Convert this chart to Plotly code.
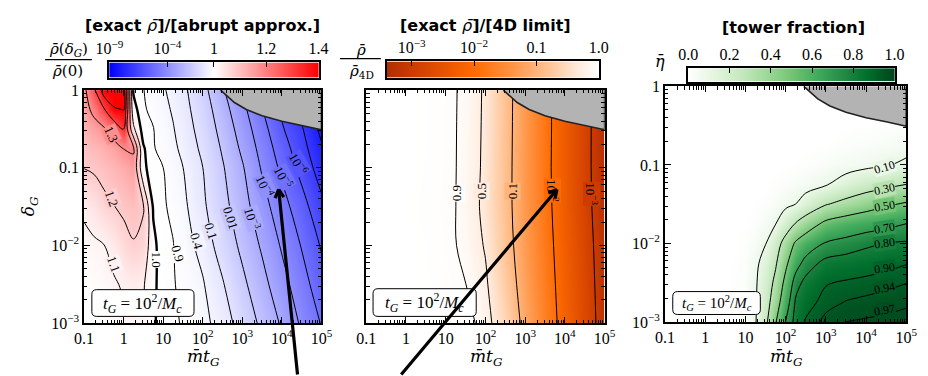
import numpy as np
import plotly.graph_objects as go

W, H = 928, 376
SERIF = "Liberation Serif"
MATH = "DejaVu Serif"
SANS = "DejaVu Sans"

# ---------------- data ----------------
# columns: log10(m t_G), rows: log10(delta_G)
p1_lx = [-1, -0.75, -0.5, -0.25, 0, 0.25, 0.5, 0.75, 1, 1.25, 1.5, 2, 2.5, 3, 3.5, 4, 4.5, 5]
p1_ly = [0, -0.25, -0.5, -0.75, -1, -1.5, -2, -2.5, -3]
p1_ratio = [
    [1.28, 1.38, 1.55, 1.62, 1.55, 0.99, 0.92, 0.665, 0.46, 0.275, 0.16, 0.021, 1.3e-3, 1e-4, 5.6e-6, 3e-7, 1.4e-8, 1e-9],
    [1.27, 1.32, 1.39, 1.48, 1.505, 1.03, 0.95, 0.805, 0.545, 0.353, 0.195, 0.034, 2.6e-3, 1.9e-4, 1.1e-5, 6.7e-7, 4.5e-8, 1.6e-9],
    [1.245, 1.27, 1.29, 1.34, 1.405, 1.12, 0.96, 0.917, 0.65, 0.43, 0.24, 0.05, 4.6e-3, 3.6e-4, 2.4e-5, 1.3e-6, 1.26e-7, 5.2e-9],
    [1.22, 1.235, 1.25, 1.27, 1.302, 1.31, 1.01, 0.935, 0.764, 0.51, 0.305, 0.071, 7.8e-3, 6.5e-4, 4.5e-5, 3e-6, 2.4e-7, 1.4e-8],
    [1.202, 1.21, 1.225, 1.24, 1.255, 1.275, 1.02, 0.957, 0.902, 0.6, 0.405, 0.101, 0.0123, 1.26e-3, 7.8e-5, 6e-6, 4.7e-7, 3.2e-8],
    [1.12, 1.15, 1.18, 1.198, 1.215, 1.225, 1.205, 0.99, 0.94, 0.83, 0.55, 0.141, 0.0215, 2.5e-3, 2.5e-4, 2.5e-5, 2.5e-6, 1.8e-7],
    [1.07, 1.085, 1.098, 1.13, 1.17, 1.195, 1.18, 1.02, 0.96, 0.914, 0.70, 0.263, 0.045, 6e-3, 7.3e-4, 7.7e-5, 8.7e-6, 8e-7],
    [1.04, 1.05, 1.065, 1.09, 1.11, 1.12, 1.11, 1.015, 0.97, 0.927, 0.817, 0.449, 0.117, 0.0168, 2.1e-3, 2.3e-4, 2.6e-5, 2.6e-6],
    [1.025, 1.03, 1.04, 1.06, 1.08, 1.09, 1.08, 1.01, 0.97, 0.933, 0.883, 0.55, 0.244, 0.044, 6.1e-3, 7.4e-4, 6.9e-5, 8.7e-6],
]
p1_levels_log = [1e-8, 1e-7, 1e-6, 1e-5, 1e-4, 1e-3, 1e-2, 0.1, 0.4, 0.9]
p1_levels_lin = [1.1, 1.2, 1.3, 1.4, 1.5]

p2_lx = [-1, 0, 0.5, 1, 1.25, 1.5, 1.75, 2, 2.5, 3, 3.5, 4, 4.5, 5]
p2_ly = [0, -0.5, -1, -1.5, -2, -2.5, -3]
p2_ratio = [
    [1.0, 0.995, 0.983, 0.947, 0.917, 0.807, 0.615, 0.44, 0.153, 0.0487, 0.0147, 4.5e-3, 1.42e-3, 4.4e-4],
    [1.0, 0.993, 0.982, 0.943, 0.913, 0.785, 0.604, 0.431, 0.15, 0.048, 0.0146, 4.6e-3, 1.45e-3, 4.6e-4],
    [1.0, 0.993, 0.98, 0.94, 0.91, 0.765, 0.594, 0.42, 0.147, 0.047, 0.0143, 4.5e-3, 1.44e-3, 4.6e-4],
    [1.0, 0.992, 0.976, 0.934, 0.904, 0.735, 0.575, 0.404, 0.146, 0.048, 0.0149, 4.7e-3, 1.5e-3, 4.8e-4],
    [1.0, 0.993, 0.981, 0.942, 0.912, 0.786, 0.618, 0.469, 0.16, 0.052, 0.0163, 5.2e-3, 1.65e-3, 5.3e-4],
    [1.0, 0.995, 0.989, 0.962, 0.935, 0.906, 0.733, 0.566, 0.198, 0.0596, 0.0184, 5.7e-3, 1.8e-3, 5.6e-4],
    [1.0, 0.996, 0.992, 0.974, 0.959, 0.929, 0.899, 0.675, 0.265, 0.0725, 0.021, 6.25e-3, 1.93e-3, 6e-4],
]
p2_levels = [1e-3, 1e-2, 0.1, 0.5, 0.9]

p3_lx = [-1, 0, 0.5, 1, 1.25, 1.5, 1.75, 2, 2.25, 2.5, 3, 3.5, 4, 4.5, 5]
p3_ly = [0, -0.5, -0.75, -1, -1.25, -1.5, -1.75, -2, -2.25, -2.5, -2.75, -3]
p3_eta = [
    [0, 0, 0, 0, 0, 0, 0, 0, 0, 0, 0, 0, 0, 0, 0],
    [0, 0, 0, 0, 0, 0, 0, 0, 0, 0, 0, 0.002, 0.005, 0.01, 0.015],
    [0, 0, 0, 0, 0, 0, 0, 0, 0, 0.002, 0.005, 0.015, 0.025, 0.035, 0.05],
    [0, 0, 0, 0, 0, 0, 0, 0.003, 0.006, 0.01, 0.03, 0.05, 0.07, 0.09, 0.128],
    [0, 0, 0, 0, 0, 0.003, 0.01, 0.02, 0.035, 0.05, 0.09, 0.16, 0.22, 0.26, 0.302],
    [0, 0, 0, 0, 0.005, 0.015, 0.035, 0.07, 0.101, 0.166, 0.29, 0.356, 0.416, 0.476, 0.521],
    [0, 0, 0, 0.005, 0.015, 0.045, 0.097, 0.204, 0.311, 0.40, 0.543, 0.598, 0.637, 0.666, 0.701],
    [0, 0, 0, 0.01, 0.035, 0.095, 0.218, 0.369, 0.525, 0.605, 0.713, 0.746, 0.78, 0.804, 0.813],
    [0, 0, 0, 0.015, 0.07, 0.157, 0.28, 0.462, 0.638, 0.75, 0.83, 0.845, 0.862, 0.879, 0.897],
    [0, 0, 0.001, 0.02, 0.0825, 0.195, 0.341, 0.551, 0.764, 0.827, 0.895, 0.909, 0.919, 0.929, 0.939],
    [0, 0, 0.001, 0.025, 0.087, 0.221, 0.40, 0.63, 0.814, 0.874, 0.923, 0.943, 0.951, 0.958, 0.966],
    [0, 0, 0.002, 0.03, 0.09, 0.257, 0.49, 0.702, 0.838, 0.907, 0.955, 0.971, 0.975, 0.978, 0.98],
]
p3_levels = [0.1, 0.3, 0.5, 0.7, 0.8, 0.9, 0.94, 0.97]

# boundary of the excluded (grey) region
edge_lx = [2.45, 2.6, 2.8, 3.1, 3.5, 4.0, 4.5, 5.0]
edge_ly = [0, -0.07, -0.16, -0.25, -0.33, -0.40, -0.45, -0.51]

x_ticks = [-1, 0, 1, 2, 3, 4, 5]
x_ticktext = ["0.1", "1", "10", "10<sup>2</sup>", "10<sup>3</sup>", "10<sup>4</sup>", "10<sup>5</sup>"]
y_ticks = [-3, -2, -1, 0]
y_ticktext = ["10<sup>\u22123</sup>", "10<sup>\u22122</sup>", "0.1", "1"]

cb1_vals = [0, 5 / 18, 0.5, 0.75, 1.0]
cb1_text = ["10<sup>\u22129</sup>", "10<sup>\u22124</sup>", "1", "1.2", "1.4"]
cb2_min = -3.4
cb2_vals = [(-3 - cb2_min) / -cb2_min, (-2 - cb2_min) / -cb2_min, (-1 - cb2_min) / -cb2_min, 1.0]
cb2_text = ["10<sup>\u22123</sup>", "10<sup>\u22122</sup>", "0.1", "1.0"]
cb3_vals = [0, 0.2, 0.4, 0.6, 0.8, 1.0]
cb3_text = ["0.0", "0.2", "0.4", "0.6", "0.8", "1.0"]

# ---------------- colour scales ----------------
CS1 = [[0, "#0000ff"], [0.5, "#ffffff"], [1, "#ff0000"]]
CS2 = [[0, "#b02e00"], [0.118, "#cc3b00"], [0.41, "#ff6a00"], [0.6, "#ff9648"],
       [0.75, "#ffc08e"], [0.9, "#ffeadb"], [1, "#ffffff"]]
CS3 = [[0, "#ffffff"], [0.125, "#e5f5e0"], [0.25, "#c7e9c0"], [0.375, "#a1d99b"], [0.5, "#74c476"],
       [0.625, "#41ab5d"], [0.75, "#238b45"], [0.875, "#006d2c"], [1, "#00441b"]]


def hex2rgb(h):
    h = h.lstrip("#")
    return tuple(int(h[i:i + 2], 16) for i in (0, 2, 4))


def cs_color(cs, t):
    t = min(max(t, 0.0), 1.0)
    for (t0, c0), (t1_, c1) in zip(cs[:-1], cs[1:]):
        if t <= t1_:
            f = (t - t0) / (t1_ - t0) if t1_ > t0 else 0
            a, b = hex2rgb(c0), hex2rgb(c1)
            return "rgb(%d,%d,%d)" % tuple(round(a[i] + (b[i] - a[i]) * f) for i in range(3))
    return "rgb(%d,%d,%d)" % hex2rgb(cs[-1][1])


def t1(v):
    v = np.asarray(v, dtype=float)
    lo = 0.5 * (1 + np.log10(np.clip(v, 1e-12, None)) / 9)
    hi = 0.5 + 0.5 * ((np.clip(v, 1, None) - 1) / 0.45) ** 2
    return np.clip(np.where(v <= 1, lo, hi), 0, 1)


def t2(v):
    v = np.asarray(v, dtype=float)
    return np.clip((np.log10(v) - cb2_min) / -cb2_min, 0, 1)


def px2x(px):
    return px / W


def px2y(py):
    return 1 - py / H


fig = go.Figure()


def add_heat(lx, ly, t, cs, n):
    fig.add_trace(go.Heatmap(x=lx, y=ly, z=t, colorscale=cs, zmin=0, zmax=1, zsmooth="best",
                             showscale=False, hoverinfo="skip", xaxis="x" + n, yaxis="y" + n))


def add_level(lx, ly, z, level, n, width=1.0):
    fig.add_trace(go.Contour(x=lx, y=ly, z=z, autocontour=False,
                             contours=dict(start=level, end=level, size=1, coloring="none", showlabels=False),
                             line=dict(color="black", width=width, smoothing=1.0),
                             showscale=False, hoverinfo="skip", xaxis="x" + n, yaxis="y" + n))


def add_grey(n):
    fig.add_trace(go.Scatter(x=edge_lx + [5.0], y=edge_ly + [0.0], fill="toself", fillcolor="#b3b3b3",
                             mode="lines", line=dict(color="#222222", width=1.6), hoverinfo="skip",
                             showlegend=False, xaxis="x" + n, yaxis="y" + n))


# panel 1
r1 = np.array(p1_ratio)
w1 = np.log10(r1)
add_heat(p1_lx, p1_ly, t1(r1), CS1, "")
for lv in p1_levels_log:
    add_level(p1_lx, p1_ly, w1, float(np.log10(lv)), "")
add_level(p1_lx, p1_ly, w1, 0.0, "", width=2.4)
for lv in p1_levels_lin:
    add_level(p1_lx, p1_ly, r1, lv, "")
add_grey("")

# panel 2
r2 = np.array(p2_ratio)
w2 = np.log10(r2)
add_heat(p2_lx, p2_ly, t2(r2), CS2, "2")
for lv in p2_levels:
    add_level(p2_lx, p2_ly, w2, float(np.log10(lv)), "2")
add_grey("2")

# panel 3
e3 = np.array(p3_eta)
add_heat(p3_lx, p3_ly, e3, CS3, "3")
for lv in p3_levels:
    add_level(p3_lx, p3_ly, e3, lv, "3")
add_grey("3")

# colour bars drawn as thin heatmaps in their own axes
cbx = np.linspace(0, 1, 300)
for n, cs in (("4", CS1), ("5", CS2), ("6", CS3)):
    fig.add_trace(go.Heatmap(x=cbx, y=[0], z=[cbx], colorscale=cs, zmin=0, zmax=1, showscale=False,
                             hoverinfo="skip", xaxis="x" + n, yaxis="y" + n))

# ---------------- axes ----------------
minor_x = [n + np.log10(k) for n in range(-1, 5) for k in range(2, 10)]
minor_y = [n + np.log10(k) for n in range(-3, 0) for k in range(2, 10)]
tickfont = dict(family=SERIF, size=16, color="black")


def main_axis(domain, rng, tv, tt, minor_vals, anchor, show_labels=True):
    return dict(domain=domain, range=rng, anchor=anchor, showgrid=False, zeroline=False,
                showline=True, linecolor="black", linewidth=1.6, mirror="allticks",
                ticks="inside", ticklen=6, tickwidth=1, tickcolor="black",
                tickmode="array", tickvals=tv, ticktext=tt, showticklabels=show_labels,
                tickfont=tickfont,
                minor=dict(tickmode="array", tickvals=minor_vals, ticks="inside", ticklen=3.5,
                           tickwidth=0.8, tickcolor="black", showgrid=False))


xd1 = [72 / W, 316 / W]
xd2 = [362 / W, 607 / W]
xd3 = [669 / W, 917 / W]
yd12 = [px2y(330), px2y(86)]
yd3 = [px2y(329), px2y(82)]

layout = dict(width=W, height=H, margin=dict(l=0, r=0, t=0, b=0), paper_bgcolor="white",
              plot_bgcolor="white", showlegend=False)
layout["xaxis"] = main_axis(xd1, [-1, 5], x_ticks, x_ticktext, minor_x, "y")
layout["yaxis"] = main_axis(yd12, [-3, 0], y_ticks, y_ticktext, minor_y, "x")
layout["xaxis2"] = main_axis(xd2, [-1, 5], x_ticks, x_ticktext, minor_x, "y2")
layout["yaxis2"] = main_axis(yd12, [-3, 0], y_ticks, y_ticktext, minor_y, "x2", show_labels=False)
layout["xaxis3"] = main_axis(xd3, [-1, 5], x_ticks, x_ticktext, minor_x, "y3")
layout["yaxis3"] = main_axis(yd3, [-3, 0], y_ticks, y_ticktext, minor_y, "x3")


def cb_axes(xdom, ydom, tv, tt, anchor_x, anchor_y):
    xa = dict(domain=xdom, range=[0, 1], anchor=anchor_y, side="top", showgrid=False, zeroline=False,
              showline=True, linecolor="black", linewidth=1.6, mirror=True, ticks="inside",
              ticklen=5, tickwidth=1, tickcolor="black", tickmode="array", tickvals=tv, ticktext=tt,
              tickfont=dict(family=SERIF, size=16, color="black"))
    ya = dict(domain=ydom, range=[-0.5, 0.5], anchor=anchor_x, showgrid=False, zeroline=False,
              showline=True, linecolor="black", linewidth=1.6, mirror=True, ticks="",
              showticklabels=False)
    return xa, ya


layout["xaxis4"], layout["yaxis4"] = cb_axes([98 / W, 313 / W], [px2y(73), px2y(57)], cb1_vals, cb1_text, "x4", "y4")
layout["xaxis5"], layout["yaxis5"] = cb_axes([383 / W, 601 / W], [px2y(73), px2y(56)], cb2_vals, cb2_text, "x5", "y5")
layout["xaxis6"], layout["yaxis6"] = cb_axes([693 / W, 905 / W], [px2y(77), px2y(63)], cb3_vals, cb3_text, "x6", "y6")
fig.update_layout(**layout)

# ---------------- annotations ----------------
ann = []
shapes = []
RHO = "\u03c1\u0304"


def ptext(text, px, py, size=16, family=SERIF, angle=0, xanchor="center"):
    ann.append(dict(text=text, x=px2x(px), y=px2y(py), xref="paper", yref="paper", showarrow=False,
                    font=dict(family=family, size=size, color="black"), textangle=angle,
                    xanchor=xanchor, yanchor="middle"))


# titles
ptext("<b>[exact </b><i>" + RHO + "</i><b>]/[abrupt approx.]</b>", 194, 18, size=16, family=SANS)
ptext("<b>[exact </b><i>" + RHO + "</i><b>]/[4D limit]</b>", 485, 18, size=16, family=SANS)
ptext("<b>[tower fraction]</b>", 801, 20, size=16, family=SANS)

# colour-bar side labels (fractions)
ptext("<i>" + RHO + "</i>(<i>\u03b4</i><sub><i>G</i></sub>)", 56, 43, size=15, family=MATH)
ptext("<i>" + RHO + "</i>(0)", 55, 66, size=15, family=MATH)
shapes.append(dict(type="line", xref="paper", yref="paper", x0=px2x(32), x1=px2x(80), y0=px2y(54), y1=px2y(54),
                   line=dict(color="black", width=1.3)))
ptext("<i>" + RHO + "</i>", 357, 44, size=15, family=MATH)
ptext("<i>" + RHO + "</i><sub>4D</sub>", 357, 66, size=15, family=MATH)
shapes.append(dict(type="line", xref="paper", yref="paper", x0=px2x(335), x1=px2x(377), y0=px2y(53), y1=px2y(53),
                   line=dict(color="black", width=1.3)))
ptext("<i>\u03b7\u0304</i>", 664, 56, size=16, family=MATH)

# axis labels
XLAB = "<i>m\u0304t</i><sub><i>G</i></sub>"
ptext(XLAB, 194, 366, size=17, family=MATH)
ptext(XLAB, 485, 366, size=17, family=MATH)
ptext(XLAB, 793, 366, size=17, family=MATH)
ptext("<i>\u03b4</i><sub><i>G</i></sub>", 16, 208, size=17, family=MATH, angle=-90)


# t_G boxes
def rbox(x0, y0, x1, y1, r=5):
    X = lambda v: px2x(v)
    Y = lambda v: px2y(v)
    p = (f"M {X(x0 + r)},{Y(y0)} L {X(x1 - r)},{Y(y0)} Q {X(x1)},{Y(y0)} {X(x1)},{Y(y0 + r)} "
         f"L {X(x1)},{Y(y1 - r)} Q {X(x1)},{Y(y1)} {X(x1 - r)},{Y(y1)} "
         f"L {X(x0 + r)},{Y(y1)} Q {X(x0)},{Y(y1)} {X(x0)},{Y(y1 - r)} "
         f"L {X(x0)},{Y(y0 + r)} Q {X(x0)},{Y(y0)} {X(x0 + r)},{Y(y0)} Z")
    shapes.append(dict(type="path", path=p, xref="paper", yref="paper", fillcolor="white",
                       line=dict(color="black", width=1), layer="above"))


TG = "<i>t</i><sub><i>G</i></sub> = 10<sup>2</sup>/<i>M</i><sub><i>c</i></sub>"
rbox(80, 295, 185, 323)
rbox(369, 294, 475, 323)
rbox(677, 297, 767, 321)

# contour labels: (text, lx, ly, angle, level)
p1_labels = [
    ("1.3", -0.31, -0.57, 65, 1.3), ("1.2", -0.31, -1.40, 70, 1.2), ("1.1", -0.24, -2.24, 70, 1.1),
    ("1.0", 0.84, -2.18, 90, 1.0), ("0.9", 1.36, -2.11, 75, 0.9), ("0.4", 1.85, -1.95, 73, 0.4),
    ("0.1", 2.20, -1.81, 73, 0.1), ("0.01", 2.71, -1.65, 72, 0.01),
    ("10<sup>\u22123</sup>", 3.25, -1.65, 72, 1e-3), ("10<sup>\u22124</sup>", 3.57, -1.24, 65, 1e-4),
    ("10<sup>\u22125</sup>", 4.04, -1.12, 62, 1e-5), ("10<sup>\u22126</sup>", 4.43, -0.95, 60, 1e-6),
]
for txt, lx, ly, ang, lv in p1_labels:
    ann.append(dict(text=txt, x=lx, y=ly, xref="x", yref="y", showarrow=False, textangle=ang,
                    font=dict(family=SERIF, size=13, color="black"),
                    bgcolor=cs_color(CS1, float(t1(lv))), borderpad=0))
p2_labels = [
    ("0.9", 1.28, -1.33, -90, 0.9), ("0.5", 1.89, -1.30, -90, 0.5), ("0.1", 2.67, -1.30, -90, 0.1),
    ("10<sup>\u22122</sup>", 3.68, -1.29, 90, 1e-2), ("10<sup>\u22123</sup>", 4.66, -1.33, 90, 1e-3),
]
for txt, lx, ly, ang, lv in p2_labels:
    ann.append(dict(text=txt, x=lx, y=ly, xref="x2", yref="y2", showarrow=False, textangle=ang,
                    font=dict(family=SERIF, size=13, color="black"),
                    bgcolor=cs_color(CS2, float(t2(lv))), borderpad=0))
p3_labels = [
    ("0.10", -1.03, -17), ("0.30", -1.31, -12), ("0.50", -1.52, -10), ("0.70", -1.80, -9),
    ("0.80", -1.99, -8), ("0.90", -2.31, -8), ("0.94", -2.56, -11), ("0.97", -2.85, -10),
]
for txt, ly, ang in p3_labels:
    ann.append(dict(text=txt, x=4.47, y=ly, xref="x3", yref="y3", showarrow=False, textangle=ang,
                    font=dict(family=SERIF, size=12, color="black"),
                    bgcolor=cs_color(CS3, float(txt)), borderpad=0))

ptext(TG, 132, 309, size=17)
ptext(TG, 422, 308, size=17)
ptext(TG, 722, 309, size=15)


# arrows (drawn as annotation arrows so they sit above the contour labels)
def seg(hx, hy, tx, ty, width):
    ann.append(dict(text="", x=px2x(hx), y=px2y(hy), xref="paper", yref="paper", showarrow=True,
                    arrowhead=0, arrowwidth=width, arrowcolor="black", axref="pixel", ayref="pixel",
                    ax=tx - hx, ay=ty - hy, standoff=0, startstandoff=0))


def arrow(tx, ty, hx, hy, width=3.2, L=11):
    seg(hx, hy, tx, ty, width)
    d = np.array([hx - tx, hy - ty], dtype=float)
    d /= np.linalg.norm(d)
    for s in (1, -1):
        a = np.radians(28) * s
        rd = np.array([d[0] * np.cos(a) - d[1] * np.sin(a), d[0] * np.sin(a) + d[1] * np.cos(a)])
        seg(hx, hy, hx - L * rd[0], hy - L * rd[1], width)


arrow(291, 380, 272, 190)
arrow(401, 380, 558, 190)

fig.update_layout(annotations=ann, shapes=shapes)
fig.write_html("out.html")
